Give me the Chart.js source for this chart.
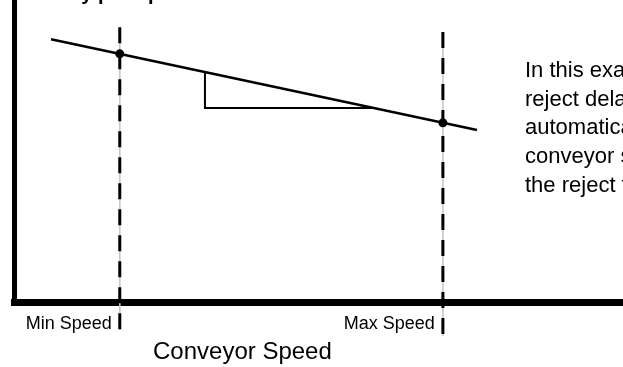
<!DOCTYPE html>
<html>
<head>
<meta charset="utf-8">
<script src="https://cdn.jsdelivr.net/npm/chart.js@4"></script>
<style>
  body { margin: 0; background: #fff; }
</style>
</head>
<body>
<canvas id="chart" width="623" height="367"></canvas>
<script>
// conveyor speed limits and their labels
const speedLimits = [17.3, 70.4];
const speedLabels = ['Min Speed', 'Max Speed'];

// reject delay line (speed -> delay)
const delayLineX = [6, 76];
const delayLineY = [87, 57];

// delay at min / max speed
const limitDelays = [82.2, 59.4];

// slope triangle under the delay line
const slopeX = [31.3, 31.3, 59];
const slopeY = [76.2, 64.3, 64.3];

// extent of the min / max speed guides
const minGuideY = [91, -9];
const maxGuideY = [89.4, -11];

const axisTitle = 'Conveyor Speed';
const chartTitle = 'Delay per Speed';
const noteLines = [
    'In this example, the',
    'reject delay is',
    'automatically adjusted as',
    'conveyor speed changes so',
    'the reject fires on target.'
];

const fontFamily = '"Liberation Sans", Arial, sans-serif';

function toPoints(xs, ys) {
    return xs.map((x, i) => ({ x, y: ys[i] }));
}

function guide(x, ys) {
    return ys.map((y) => ({ x, y }));
}

// speed labels under the axis, plus the free text around the plot
const textPlugin = {
    id: 'texts',
    afterDraw(chart) {
        const ctx = chart.ctx;
        const xScale = chart.scales.x;
        ctx.save();
        ctx.fillStyle = '#000';
        ctx.textBaseline = 'alphabetic';

        ctx.font = '18px ' + fontFamily;
        ctx.textAlign = 'right';
        speedLimits.forEach((v, i) => {
            ctx.fillText(speedLabels[i], xScale.getPixelForValue(v) - 8, 329);
        });

        ctx.textAlign = 'left';
        ctx.font = 'bold 20px ' + fontFamily;
        ctx.fillText(chartTitle, 39, 0);

        ctx.font = '24px ' + fontFamily;
        ctx.fillText(axisTitle, 153, 359);

        ctx.font = '22px ' + fontFamily;
        noteLines.forEach((line, i) => {
            ctx.fillText(line, 525, 77 + i * 28.7);
        });
        ctx.restore();
    }
};

const datasets = [
    {
        data: toPoints(speedLimits, limitDelays),
        showLine: false,
        pointRadius: 4.5,
        pointBackgroundColor: '#000',
        pointBorderWidth: 0
    },
    {
        data: toPoints(delayLineX, delayLineY),
        showLine: true,
        borderColor: '#000',
        borderWidth: 2.5,
        pointRadius: 0
    },
    {
        data: toPoints(slopeX, slopeY),
        showLine: true,
        borderColor: '#000',
        borderWidth: 2,
        pointRadius: 0
    },
    {
        data: guide(speedLimits[0], minGuideY),
        showLine: true,
        borderColor: '#000',
        borderWidth: 3,
        borderDash: [16, 10],
        pointRadius: 0,
        clip: false
    },
    {
        data: guide(speedLimits[1], maxGuideY),
        showLine: true,
        borderColor: '#000',
        borderWidth: 3,
        borderDash: [16, 10],
        pointRadius: 0,
        clip: false
    },
    {
        data: guide(speedLimits[0], minGuideY),
        showLine: true,
        borderColor: '#c8c8c8',
        borderWidth: 1,
        pointRadius: 0,
        clip: false
    },
    {
        data: guide(speedLimits[1], maxGuideY),
        showLine: true,
        borderColor: '#c8c8c8',
        borderWidth: 1,
        pointRadius: 0,
        clip: false
    }
];

const config = {
    type: 'scatter',
    data: { datasets },
    options: {
        responsive: false,
        animation: false,
        layout: {
            autoPadding: false,
            padding: { left: 14.5, top: 0, right: 0, bottom: 64.5 }
        },
        plugins: {
            legend: { display: false },
            tooltip: { enabled: false }
        },
        scales: {
            x: {
                type: 'linear',
                min: 0,
                max: 100,
                grid: { display: false, drawTicks: false },
                border: { display: true, color: '#000', width: 7 },
                ticks: { display: false }
            },
            y: {
                type: 'linear',
                min: 0,
                max: 100,
                grid: { display: false, drawTicks: false },
                border: { display: true, color: '#000', width: 5 },
                ticks: { display: false }
            }
        }
    },
    plugins: [textPlugin]
};

new Chart(document.getElementById('chart'), config);
</script>
</body>
</html>
